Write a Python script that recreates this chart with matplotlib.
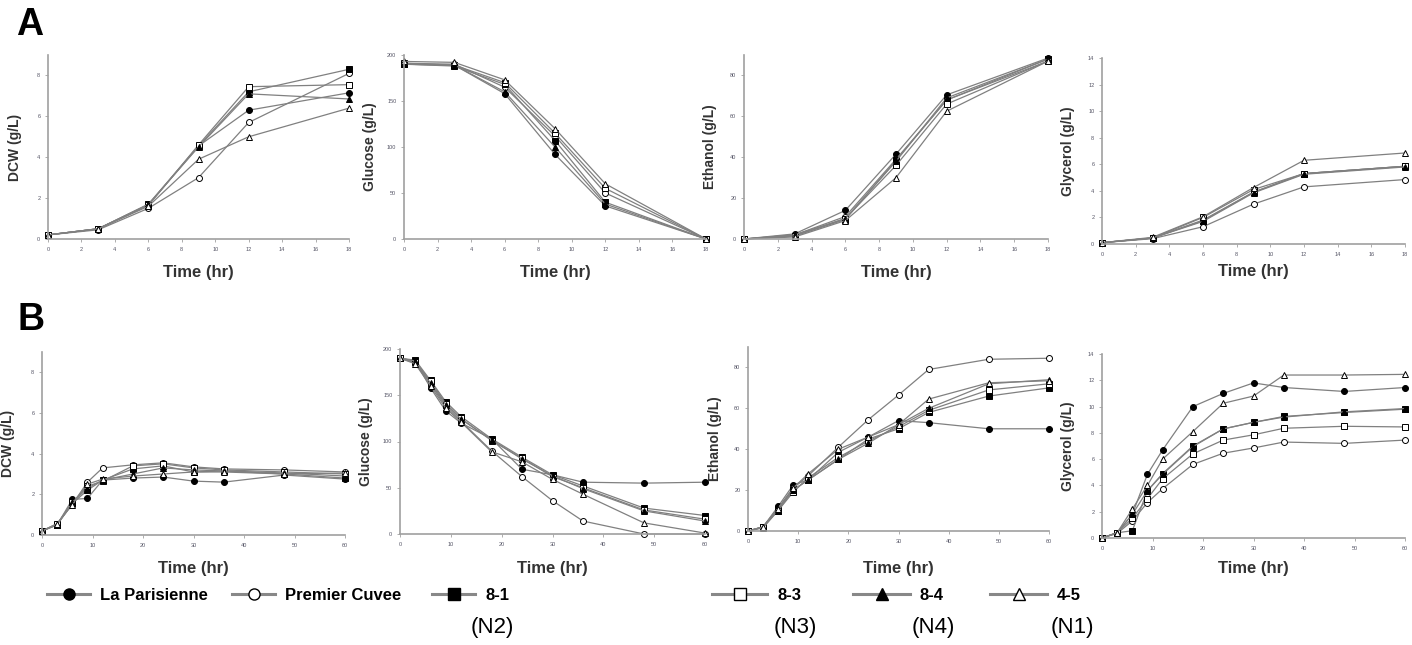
import matplotlib
matplotlib.use('Agg')
import matplotlib.pyplot as plt
from matplotlib.lines import Line2D

plt.rcParams['font.family'] = ['Liberation Sans', 'DejaVu Sans']

# strains, in legend order
strains = ['La Parisienne', 'Premier Cuvee', '8-1', '8-3', '8-4', '4-5']
strain_codes = ['', '', '(N2)', '(N3)', '(N4)', '(N1)']
markers = ['o', 'o', 's', 's', '^', '^']
filled = [True, False, True, False, True, False]

# A: sampling times (hr)
time_a = [0, 3, 6, 9, 12, 18]
dcw_a = [
    [0.2, 0.5, 1.65, 4.55, 6.3, 7.15],
    [0.2, 0.45, 1.5, 3.0, 5.7, 8.1],
    [0.2, 0.5, 1.7, 4.55, 7.2, 8.3],
    [0.2, 0.5, 1.65, 4.6, 7.45, 7.55],
    [0.2, 0.5, 1.7, 4.5, 7.1, 6.85],
    [0.2, 0.5, 1.6, 3.9, 5.0, 6.4],
]
glucose_a = [
    [190, 189, 158, 92, 36, 0],
    [191, 190, 165, 112, 50, 0],
    [190, 188, 168, 107, 40, 0],
    [191, 189, 170, 115, 55, 0],
    [190, 189, 160, 100, 38, 0],
    [193, 192, 173, 120, 60, 0],
]
ethanol_a = [
    [0, 2.5, 14, 41.5, 70.5, 88.5],
    [0, 2, 11, 39, 68, 87],
    [0, 1.5, 9.5, 38.5, 68, 88],
    [0, 1.5, 10, 36, 66, 87],
    [0, 2, 10, 38, 69, 88],
    [0, 1, 9, 30, 62.5, 87],
]
glycerol_a = [
    [0.1, 0.45, 1.8, 3.9, 5.3, 5.85],
    [0.1, 0.4, 1.3, 3.0, 4.3, 4.85],
    [0.1, 0.45, 1.75, 3.9, 5.3, 5.85],
    [0.1, 0.45, 2.0, 4.1, 5.3, 5.85],
    [0.1, 0.45, 1.7, 3.85, 5.25, 5.8],
    [0.1, 0.5, 2.05, 4.25, 6.3, 6.85],
]

# B: sampling times (hr)
time_b = [0, 3, 6, 9, 12, 18, 24, 30, 36, 48, 60]
dcw_b = [
    [0.2, 0.5, 1.75, 1.8, 2.7, 2.8, 2.85, 2.65, 2.6, 2.95, 2.75],
    [0.2, 0.55, 1.5, 2.6, 3.3, 3.45, 3.55, 3.35, 3.25, 3.2, 3.1],
    [0.2, 0.5, 1.55, 2.2, 2.7, 3.25, 3.4, 3.1, 3.15, 3.0, 2.8],
    [0.2, 0.55, 1.6, 2.4, 2.65, 3.4, 3.5, 3.3, 3.2, 3.1, 3.0],
    [0.2, 0.5, 1.6, 2.3, 2.7, 3.0, 3.3, 3.2, 3.15, 3.05, 2.9],
    [0.2, 0.55, 1.5, 2.5, 2.75, 2.9, 3.0, 3.1, 3.1, 3.0, 3.05],
]
glucose_b = [
    [190, 187, 158, 133, 120, 103, 70, 64, 56, 55, 56],
    [190, 185, 162, 138, 122, 90, 62, 36, 14, 0, 0],
    [190, 188, 166, 143, 127, 103, 83, 64, 52, 28, 20],
    [190, 186, 165, 141, 125, 101, 82, 62, 50, 26, 16],
    [190, 187, 163, 140, 124, 102, 81, 63, 49, 25, 14],
    [190, 184, 160, 136, 121, 89, 78, 59, 43, 12, 1],
]
ethanol_b = [
    [0, 2, 12, 22.5, 25, 38.5, 46, 54, 53, 50, 50],
    [0, 2, 11, 21, 27, 41, 54.5, 66.5, 79, 84, 84.5],
    [0, 2, 11, 20, 25, 35, 45, 50, 58, 66, 70],
    [0, 2, 10, 19, 26, 36, 44, 51, 59, 69, 72],
    [0, 1.5, 10, 20, 25, 35, 43, 52, 60, 72, 74],
    [0, 2, 11, 21, 28, 40, 46, 52, 64.5, 72.5, 73.5],
]
glycerol_b = [
    [0, 0.4, 1.8, 4.85, 6.7, 10, 11, 11.8, 11.45, 11.15, 11.45],
    [0, 0.35, 1.3, 2.7, 3.75, 5.6, 6.45, 6.85, 7.3, 7.2, 7.45],
    [0, 0.4, 0.55, 3.6, 4.9, 7.0, 8.3, 8.8, 9.25, 9.55, 9.8],
    [0, 0.4, 1.5, 3.0, 4.5, 6.4, 7.45, 7.85, 8.35, 8.5, 8.45],
    [0, 0.4, 1.8, 3.6, 4.85, 6.95, 8.3, 8.8, 9.2, 9.6, 9.85],
    [0, 0.4, 2.2, 4.0, 6.0, 8.1, 10.25, 10.8, 12.4, 12.4, 12.45],
]

W, H = 1412, 645
fig = plt.figure(figsize=(W / 100, H / 100), dpi=100)

# panel boxes in pixels: left, right, top, bottom
boxes = [
    (48, 349, 55, 239), (404, 706, 55, 239), (744, 1048, 55, 239), (1102, 1405, 58, 244),
    (42, 345, 352, 535), (400, 705, 349, 534), (748, 1049, 347, 531), (1102, 1405, 354, 538),
]
panels = [
    (time_a, dcw_a, 'DCW (g/L)', 9, 2, 18, 2),
    (time_a, glucose_a, 'Glucose (g/L)', 200, 50, 18, 2),
    (time_a, ethanol_a, 'Ethanol (g/L)', 90, 20, 18, 2),
    (time_a, glycerol_a, 'Glycerol (g/L)', 14, 2, 18, 2),
    (time_b, dcw_b, 'DCW (g/L)', 9, 2, 60, 10),
    (time_b, glucose_b, 'Glucose (g/L)', 200, 50, 60, 10),
    (time_b, ethanol_b, 'Ethanol (g/L)', 90, 20, 60, 10),
    (time_b, glycerol_b, 'Glycerol (g/L)', 14, 2, 60, 10),
]

line_col = '#808080'
for (l, r, t, b), (tt, series, ylab, ymax, ystep, xmax, xstep) in zip(boxes, panels):
    ax = fig.add_axes([l / W, 1 - b / H, (r - l) / W, (b - t) / H])
    for vals, m, f in zip(series, markers, filled):
        ax.plot(tt, vals, color=line_col, lw=0.9, marker=m, markersize=4.3,
                markerfacecolor='black' if f else 'white', markeredgecolor='black',
                markeredgewidth=0.7, clip_on=False)
    ax.set_xlim(0, xmax)
    ax.set_ylim(0, ymax)
    ax.set_xticks(range(0, xmax + 1, xstep))
    ax.set_yticks(range(0, ymax + 1, ystep) if ymax % ystep == 0 else range(0, ymax, ystep))
    for s in ['top', 'right']:
        ax.spines[s].set_visible(False)
    for s in ['left', 'bottom']:
        ax.spines[s].set_color('#a0a0a0')
        ax.spines[s].set_linewidth(1.2)
    ax.tick_params(labelsize=4, colors='#a0a0a0', labelcolor='#555566', length=2.5, width=0.6, pad=3)
    ax.set_ylabel(ylab, fontsize=10, fontweight='bold', color='#333333')
    ax.yaxis.set_label_coords(-0.088, 0.5)
    ax.set_xlabel('Time (hr)', fontsize=12, fontweight='bold', color='#333333')
    # x label centre sits at a fixed height in each row
    lab_y = 271 if t < 300 else 567
    ax.xaxis.set_label_coords(0.5, (b - lab_y) / (b - t) + 0.035)

fig.text(16 / W, 1 - 35 / H, 'A', fontsize=27, fontweight='bold', va='baseline')
fig.text(17 / W, 1 - 330 / H, 'B', fontsize=27, fontweight='bold', va='baseline')

# legend: one entry per strain, placed along the bottom
leg_x = [47, 232, 432, 712, 853, 990]
leg_len = [43, 43, 43, 55, 57, 57]
code_x = [0, 0, 492, 795, 933, 1072]
fs = 12
for name, code, m, f, x, hl, cx in zip(strains, strain_codes, markers, filled, leg_x, leg_len, code_x):
    h = Line2D([], [], color='#888888', lw=2.2, marker=m, markersize=8,
               markerfacecolor='black' if f else 'white', markeredgecolor='black', markeredgewidth=1.0)
    fig.legend([h], [name], loc='center left', bbox_to_anchor=(x / W, 1 - 595 / H),
               frameon=False, borderpad=0, borderaxespad=0, handlelength=hl / (fs * 100 / 72),
               handletextpad=0.6, prop={'size': fs, 'weight': 'bold'})
    if code:
        fig.text(cx / W, 1 - 628 / H, code, fontsize=16, ha='center', va='center')

fig.savefig('out.png', dpi=100)
